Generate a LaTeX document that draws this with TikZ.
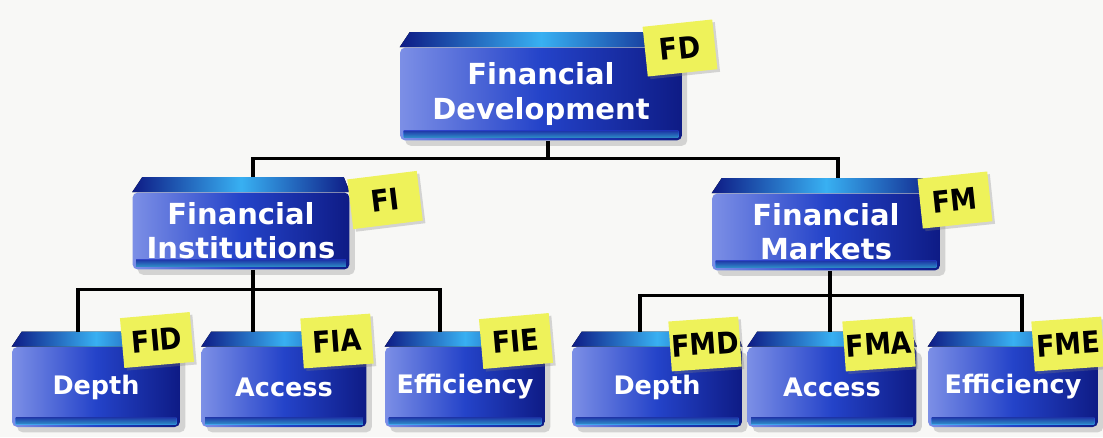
\documentclass[tikz,border=0pt]{standalone}
\usepackage{fontspec}
\setmainfont{DejaVu Sans}
\newfontfamily\tagfont{DejaVu Sans Condensed}
\usetikzlibrary{calc,shadows}

\definecolor{boxlight}{HTML}{7C8FE6}
\definecolor{boxmid}{HTML}{2443C9}
\definecolor{boxdark}{HTML}{0E1B85}
\definecolor{boxcyan}{HTML}{38B0F2}
\definecolor{notey}{HTML}{EEF25A}
\definecolor{paper}{HTML}{F8F8F6}

\tikzset{
  panel/.style={rectangle, rounded corners=3pt, inner sep=0pt, align=center,
    text=white, font=\bfseries\fontsize{16.5}{19.5}\selectfont,
    left color=boxlight, right color=boxdark, middle color=boxmid,
    drop shadow={shadow xshift=3pt, shadow yshift=-3pt, opacity=0.3}},
  small/.style={minimum height=1.6cm, font=\bfseries\fontsize{14.5}{17}\selectfont},
  note/.style={rectangle, fill=notey, minimum width=1.4cm, minimum height=1.0cm,
    inner sep=0pt, font=\tagfont\bfseries\fontsize{17}{17}\selectfont,
    drop shadow={shadow xshift=1.5pt, shadow yshift=-1.5pt, opacity=0.3}},
  wire/.style={line width=1.8pt, black}
}

\begin{document}
\begin{tikzpicture}[x=0.02cm, y=-0.02cm]
  \useasboundingbox (0,0) rectangle (1103,437);
  \fill[paper] (0,0) rectangle (1103,437);

  % Top level
  \node[panel, minimum width=5.64cm, minimum height=1.86cm] (fd) at (541,94) {Financial\\Development};

  % Second level
  \node[panel, minimum width=4.34cm, minimum height=1.54cm] (fi) at (241,231) {Financial\\Institutions};
  \node[panel, minimum width=4.56cm, minimum height=1.54cm] (fm) at (826,232) {Financial\\Markets};

  % Third level
  \node[panel, small, minimum width=3.36cm] (fid) at (96,387) {Depth};
  \node[panel, small, minimum width=3.30cm] (fia) at (284,387) {Access};
  \node[panel, small, minimum width=3.20cm] (fie) at (465,387) {Efficiency};
  \node[panel, small, minimum width=3.40cm] (fmd) at (657,387) {Depth};
  \node[panel, small, minimum width=3.38cm] (fma) at (832,387) {Access};
  \node[panel, small, minimum width=3.40cm] (fme) at (1013,387) {Efficiency};

  % Top faces and bottom highlight of the boxes
  \foreach \n in {fd,fi,fm,fid,fia,fie,fmd,fma,fme} {
    \fill[left color=boxdark, right color=boxdark, middle color=boxcyan]
      (\n.north west) -- ($(\n.north west)+(10,-15)$) -- ($(\n.north east)+(-6,-15)$) -- (\n.north east) -- cycle;
    \fill[top color=boxmid, bottom color=boxcyan, opacity=0.8]
      ($(\n.south west)+(4,-10)$) rectangle ($(\n.south east)+(-4,-3)$);
  }

  % Connectors
  \draw[wire] ($(fd.south)+(7,0)$) -- ++(0,18);
  \draw[wire] ($(fi.north)+(12,-15)$) |- ($(fd.south)+(7,18)$) -| ($(fm.north)+(12,-15)$);

  \draw[wire] ($(fi.south)+(12,0)$) -- ($(fia.north)+(-31,-15)$);
  \draw[wire] ($(fid.north)+(-18,-15)$) |- ($(fi.south)+(12,20)$) -| ($(fie.north)+(-25,-15)$);

  \draw[wire] ($(fm.south)+(4,0)$) -- ($(fma.north)+(-2,-15)$);
  \draw[wire] ($(fmd.north)+(-17,-15)$) |- ($(fm.south)+(4,25)$) -| ($(fme.north)+(9,-15)$);

  % Sticky notes
  \node[note, rotate=6] (fdtag) at (680,48) {FD};
  \node[note, rotate=7] (fitag) at (385,200) {FI};
  \node[note, rotate=6] (fmtag) at (955,200) {FM};
  \node[note, rotate=5] (fidtag) at (157,340) {FID};
  \node[note, rotate=4] (fiatag) at (337,341) {FIA};
  \node[note, rotate=5] (fietag) at (516,341) {FIE};
  \node[note, rotate=4] (fmdtag) at (705,344) {FMD};
  \node[note, rotate=4] (fmatag) at (879,344) {FMA};
  \node[note, rotate=4] (fmetag) at (1068,344) {FME};
\end{tikzpicture}
\end{document}
